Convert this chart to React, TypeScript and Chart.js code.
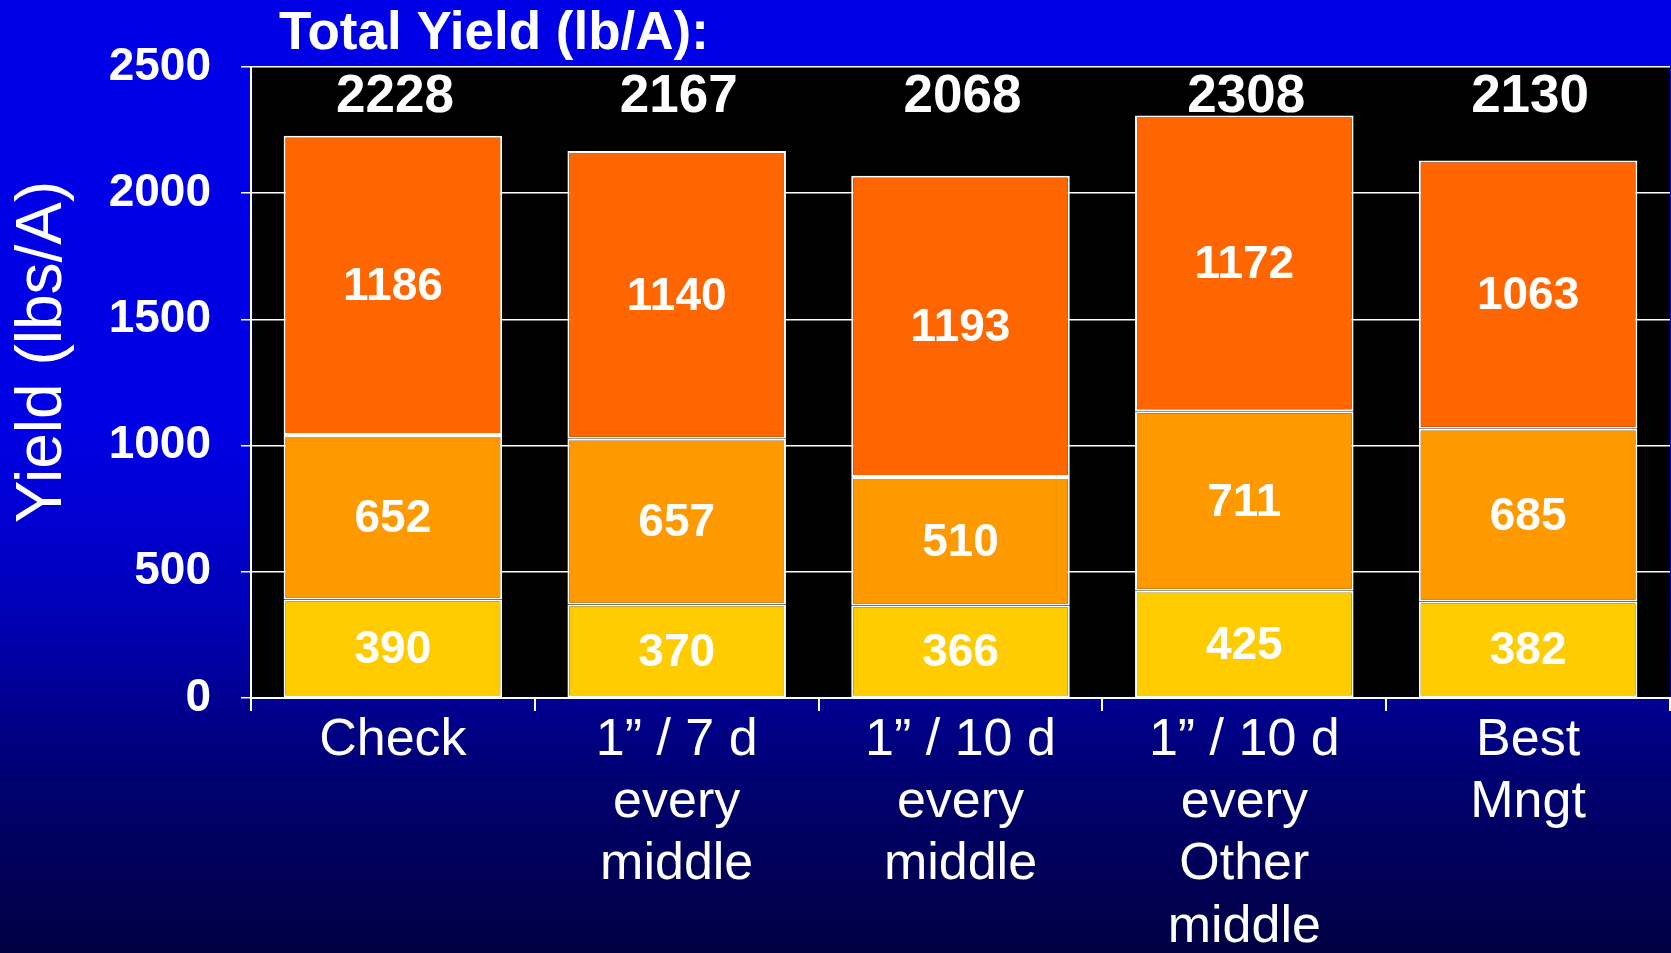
import React, { useEffect, useRef } from "react";
import { Chart, registerables } from "chart.js";

Chart.register(...registerables);

const categories: string[][] = [
  ["Check"],
  ["1\u201D / 7 d", "every", "middle"],
  ["1\u201D / 10 d", "every", "middle"],
  ["1\u201D / 10 d", "every", "Other", "middle"],
  ["Best", "Mngt"],
];
const lowerValues = [390, 370, 366, 425, 382];
const middleValues = [652, 657, 510, 711, 685];
const upperValues = [1186, 1140, 1193, 1172, 1063];
const totalYield = [2228, 2167, 2068, 2308, 2130];
const totalTitle = "Total Yield (lb/A):";
const yAxisTitle = "Yield (lbs/A)";
const yMin = 0;
const yMax = 2500;
const yStep = 500;

const FONT = '"Liberation Sans", Arial, Helvetica, sans-serif';

const labelPlugin = {
  id: "customLabels",
  beforeDraw(chart: any) {
    const { ctx, chartArea } = chart;
    ctx.save();
    ctx.fillStyle = "#000000";
    ctx.fillRect(chartArea.left, chartArea.top, chartArea.right - chartArea.left, chartArea.bottom - chartArea.top);
    ctx.restore();
  },
  afterDatasetsDraw(chart: any) {
    const { ctx, chartArea } = chart;
    ctx.save();
    ctx.fillStyle = "#ffffff";
    ctx.textAlign = "center";
    ctx.textBaseline = "middle";
    ctx.font = `bold 46px ${FONT}`;
    chart.data.datasets.forEach((ds: any, i: number) => {
      const meta = chart.getDatasetMeta(i);
      meta.data.forEach((el: any, j: number) => {
        const y = (el.y + el.base) / 2;
        ctx.fillText(String(ds.data[j]), el.x, y + 2);
      });
    });
    // totals
    ctx.font = `bold 53px ${FONT}`;
    const meta0 = chart.getDatasetMeta(0);
    totalYield.forEach((t, j) => {
      const el = meta0.data[j];
      ctx.fillText(String(t), el.x + 2, chartArea.top + 30);
    });
    // title
    ctx.textAlign = "left";
    ctx.fillText(totalTitle, 279, 34);
    // y axis title
    ctx.font = `64px ${FONT}`;
    ctx.translate(43, 352);
    ctx.rotate(-Math.PI / 2);
    ctx.textAlign = "center";
    ctx.fillText(yAxisTitle, 0, 0);
    ctx.restore();
  },
};

export default function App() {
  const canvasRef = useRef<HTMLCanvasElement | null>(null);

  useEffect(() => {
    document.body.style.margin = "0";
    const canvas = canvasRef.current;
    if (!canvas) return;
    const chart = new Chart(canvas, {
      type: "bar",
      data: {
        labels: categories,
        datasets: [
          {
            label: "lower",
            data: lowerValues,
            backgroundColor: "#FFCC00",
            borderColor: "#ffffff",
            borderWidth: 2,
            borderSkipped: false,
          },
          {
            label: "middle",
            data: middleValues,
            backgroundColor: "#FF9900",
            borderColor: "#ffffff",
            borderWidth: 2,
            borderSkipped: false,
          },
          {
            label: "upper",
            data: upperValues,
            backgroundColor: "#FF6600",
            borderColor: "#ffffff",
            borderWidth: 2,
            borderSkipped: false,
          },
        ],
      },
      options: {
        animation: false,
        responsive: true,
        maintainAspectRatio: false,
        datasets: { bar: { categoryPercentage: 1, barPercentage: 0.77 } },
        layout: { padding: { left: 0, top: 67, right: 1, bottom: 0 } },
        plugins: {
          legend: { display: false },
          tooltip: { enabled: false },
          title: { display: false },
        },
        scales: {
          x: {
            stacked: true,
            offset: true,
            border: { display: true, color: "#ffffff", width: 2 },
            grid: {
              offset: true,
              drawOnChartArea: false,
              drawTicks: true,
              tickLength: 13,
              color: "#ffffff",
              lineWidth: 2,
            },
            ticks: {
              color: "#ffffff",
              font: { family: FONT, size: 52, lineHeight: 1.2 },
              padding: -2,
              maxRotation: 0,
              minRotation: 0,
              autoSkip: false,
            },
            afterFit(scale: any) {
              scale.height = 255;
            },
          },
          y: {
            stacked: true,
            min: yMin,
            max: yMax,
            border: { display: true, color: "#ffffff", width: 2 },
            grid: {
              color: "#ffffff",
              lineWidth: 1.5,
              drawTicks: true,
              tickLength: 10,
            },
            ticks: {
              stepSize: yStep,
              color: "#ffffff",
              font: { family: FONT, size: 46, weight: "bold" },
              padding: 30,
              callback: (v: any) => String(v),
            },
            afterFit(scale: any) {
              scale.width = 251;
            },
          },
        },
      },
      plugins: [labelPlugin],
    });
    return () => chart.destroy();
  }, []);

  return (
    <div
      style={{
        position: "fixed",
        left: 0,
        top: 0,
        width: 1671,
        height: 953,
        overflow: "hidden",
        background:
          "linear-gradient(to bottom, #0000E8 0%, #0000E4 45%, #0000D0 55%, #0000B4 65%, #000070 82%, #000042 100%)",
      }}
    >
      <div
        style={{
          position: "absolute",
          left: 675,
          top: -40,
          width: 566,
          height: 40,
          border: "2px solid #ffffff",
          boxSizing: "border-box",
        }}
      />
      <div style={{ position: "absolute", left: 0, top: 0, width: 1671, height: 953 }}>
        <canvas ref={canvasRef} />
      </div>
    </div>
  );
}
